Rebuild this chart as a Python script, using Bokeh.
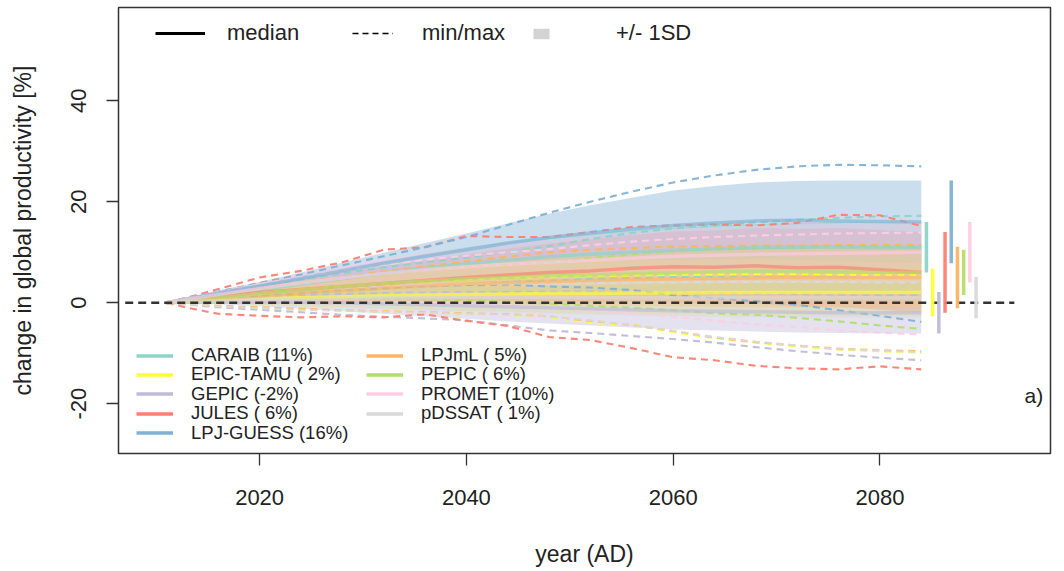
import numpy as np
from bokeh.plotting import figure
from bokeh.models import Range1d, FixedTicker, Legend, LegendItem, Label
from bokeh.embed import file_html
from bokeh.resources import INLINE

# ---------------------------------------------------------------- data
years = [2011, 2013, 2016, 2020, 2024, 2028, 2032, 2036, 2040, 2044,
         2048, 2052, 2056, 2060, 2064, 2068, 2072, 2076, 2080, 2084]

models = ["CARAIB", "EPIC-TAMU", "GEPIC", "JULES", "LPJ-GUESS",
          "LPJmL", "PEPIC", "PROMET", "pDSSAT"]
colors = ["#8DD3C7", "#FFFF33", "#BEBADA", "#FB8072", "#80B1D3",
          "#FDB462", "#B3DE69", "#FCCDE5", "#D9D9D9"]

caraib_median = [0.0, 0.6, 1.4, 2.6, 3.7, 4.8, 5.8, 6.8, 7.7, 8.4, 9.1, 9.6, 10.0, 10.4, 10.7, 10.9, 11.0, 11.1, 11.0, 11.0]
caraib_sd = [0.0, 0.3, 0.7, 1.2, 1.7, 2.1, 2.5, 2.9, 3.3, 3.6, 3.9, 4.1, 4.3, 4.5, 4.6, 4.7, 4.8, 4.9, 5.0, 5.0]
caraib_min = [0.0, 0.3, 0.7, 1.3, 1.8, 2.3, 2.8, 3.3, 3.7, 4.1, 4.4, 4.7, 4.9, 5.1, 5.2, 5.3, 5.4, 5.4, 5.5, 5.5]
caraib_max = [0.0, 0.9, 2.0, 3.4, 4.6, 5.8, 7.0, 8.0, 8.9, 10.0, 11.2, 12.6, 13.8, 14.7, 15.3, 15.9, 16.4, 16.8, 17.1, 17.2]

epic_median = [0.0, 0.2, 0.5, 0.8, 1.0, 1.2, 1.4, 1.5, 1.6, 1.7, 1.8, 1.8, 1.9, 1.9, 2.0, 2.0, 2.0, 2.0, 2.0, 2.0]
epic_sd = [0.0, 0.3, 0.7, 1.2, 1.7, 2.1, 2.5, 2.9, 3.2, 3.5, 3.8, 4.0, 4.2, 4.3, 4.4, 4.5, 4.6, 4.6, 4.7, 4.7]
epic_min = [0.0, -0.3, -0.7, -1.1, -1.4, -1.5, -1.7, -1.9, -2.2, -2.4, -2.8, -4.0, -4.3, -5.8, -7.0, -7.9, -8.6, -9.3, -9.6, -9.9]
epic_max = [0.0, 0.5, 1.2, 2.0, 2.7, 3.3, 3.8, 4.2, 4.6, 4.9, 5.1, 5.3, 5.4, 5.5, 5.6, 5.6, 5.6, 5.5, 5.5, 5.5]

gepic_median = [0.0, 0.1, 0.2, 0.2, 0.1, 0.0, -0.2, -0.4, -0.6, -0.8, -1.0, -1.2, -1.4, -1.6, -1.7, -1.8, -1.9, -2.0, -2.0, -2.0]
gepic_sd = [0.0, 0.2, 0.5, 0.9, 1.3, 1.7, 2.0, 2.3, 2.6, 2.9, 3.1, 3.3, 3.5, 3.7, 3.8, 3.9, 4.0, 4.0, 4.1, 4.1]
gepic_min = [0.0, -0.4, -0.9, -1.4, -1.9, -2.4, -2.8, -3.1, -3.5, -4.5, -5.5, -6.0, -6.6, -7.2, -7.9, -8.8, -9.6, -10.3, -10.9, -11.4]
gepic_max = [0.0, 0.3, 0.7, 1.2, 1.5, 1.7, 1.9, 2.0, 2.1, 2.1, 2.2, 2.2, 2.1, 2.0, 1.9, 1.8, 1.7, 1.6, 1.5, 1.5]

jules_median = [0.0, 0.5, 1.2, 2.0, 2.6, 3.2, 3.8, 4.4, 5.0, 5.5, 6.0, 6.3, 6.8, 7.1, 7.0, 7.3, 6.9, 7.0, 6.5, 6.0]
jules_sd = [0.0, 0.4, 1.0, 1.6, 2.2, 2.8, 3.4, 4.0, 4.6, 5.2, 5.7, 6.2, 6.6, 7.0, 7.3, 7.5, 7.7, 7.8, 7.9, 8.0]
jules_min = [0.0, -1.0, -2.2, -2.6, -2.9, -2.7, -2.9, -2.3, -3.6, -4.6, -6.8, -7.4, -9.0, -10.8, -11.4, -12.5, -13.0, -13.2, -12.6, -13.2]
jules_max = [0.0, 1.0, 2.7, 5.0, 6.3, 8.0, 10.5, 11.0, 13.2, 13.0, 13.0, 14.0, 15.0, 15.3, 15.5, 15.3, 15.8, 17.4, 17.3, 15.2]

lpjguess_median = [0.0, 0.8, 1.9, 3.3, 4.8, 6.3, 7.8, 9.2, 10.5, 11.8, 12.9, 13.8, 14.6, 15.3, 15.8, 16.2, 16.3, 16.2, 16.1, 16.0]
lpjguess_sd = [0.0, 0.2, 0.5, 0.8, 1.2, 1.6, 2.1, 2.6, 3.2, 3.9, 4.7, 5.5, 6.2, 6.9, 7.3, 7.6, 7.8, 8.0, 8.1, 8.2]
lpjguess_min = [0.0, 0.3, 0.8, 1.5, 2.1, 2.6, 3.0, 3.3, 3.5, 3.6, 3.2, 3.0, 2.5, 1.5, 0.9, 0.3, -0.4, -1.5, -2.6, -3.8]
lpjguess_max = [0.0, 1.0, 2.2, 3.9, 5.6, 7.4, 9.2, 11.0, 13.0, 15.4, 17.8, 20.0, 22.0, 23.8, 25.2, 26.3, 27.0, 27.3, 27.2, 27.0]

lpjml_median = [0.0, 0.3, 0.7, 1.3, 1.9, 2.4, 2.9, 3.3, 3.7, 4.0, 4.2, 4.4, 4.6, 4.7, 4.8, 4.9, 5.0, 5.0, 5.0, 5.0]
lpjml_sd = [0.0, 0.4, 0.9, 1.5, 2.1, 2.6, 3.1, 3.5, 3.9, 4.3, 4.6, 4.9, 5.2, 5.4, 5.6, 5.8, 5.9, 6.0, 6.1, 6.1]
lpjml_min = [0.0, -0.3, -0.6, -0.9, -1.2, -1.5, -1.7, -1.9, -2.1, -2.3, -2.7, -3.6, -4.4, -5.6, -6.9, -7.8, -8.5, -9.1, -9.4, -9.6]
lpjml_max = [0.0, 0.7, 1.6, 2.8, 4.0, 5.1, 6.2, 7.2, 8.2, 9.1, 10.0, 10.5, 10.8, 11.1, 11.2, 11.3, 11.3, 11.4, 11.4, 11.4]

pepic_median = [0.0, 0.4, 1.0, 1.8, 2.5, 3.2, 3.8, 4.3, 4.7, 5.0, 5.3, 5.5, 5.7, 5.9, 6.1, 6.2, 6.2, 6.1, 6.0, 6.0]
pepic_sd = [0.0, 0.3, 0.7, 1.2, 1.7, 2.1, 2.5, 2.8, 3.1, 3.4, 3.6, 3.8, 3.9, 4.1, 4.2, 4.3, 4.4, 4.4, 4.5, 4.5]
pepic_min = [0.0, 0.1, 0.3, 0.5, 0.7, 0.8, 0.8, 0.7, 0.5, 0.2, -0.2, -0.6, -1.0, -1.5, -2.1, -2.4, -3.0, -3.7, -4.5, -5.2]
pepic_max = [0.0, 0.6, 1.4, 2.6, 3.7, 4.7, 5.6, 6.4, 7.1, 7.6, 8.0, 8.8, 9.6, 10.2, 10.6, 10.8, 10.9, 11.0, 11.0, 11.0]

promet_median = [0.0, 0.7, 1.6, 2.8, 3.9, 4.9, 5.8, 6.5, 7.1, 7.6, 8.0, 8.4, 8.8, 9.2, 9.4, 9.6, 9.7, 9.8, 9.9, 10.0]
promet_sd = [0.0, 0.3, 0.8, 1.4, 2.0, 2.5, 3.0, 3.4, 3.8, 4.2, 4.6, 4.9, 5.2, 5.4, 5.6, 5.7, 5.8, 5.9, 6.0, 6.0]
promet_min = [0.0, 0.1, 0.2, 0.3, 0.3, 0.2, 0.1, 0.0, -0.2, -0.5, -1.0, -1.5, -2.1, -2.8, -3.6, -4.3, -4.8, -5.5, -5.9, -6.3]
promet_max = [0.0, 0.9, 2.1, 3.7, 5.1, 6.4, 7.5, 8.5, 9.3, 10.0, 10.6, 11.4, 12.1, 12.6, 13.0, 13.3, 13.5, 13.7, 13.8, 13.9]

pdssat_median = [0.0, 0.2, 0.4, 0.6, 0.8, 0.9, 1.0, 1.0, 1.1, 1.1, 1.1, 1.1, 1.0, 1.0, 1.0, 1.0, 1.0, 1.0, 1.0, 1.0]
pdssat_sd = [0.0, 0.3, 0.7, 1.1, 1.5, 1.9, 2.3, 2.6, 2.9, 3.1, 3.3, 3.5, 3.6, 3.7, 3.8, 3.9, 4.0, 4.0, 4.1, 4.1]
pdssat_min = [0.0, -0.3, -0.7, -1.1, -1.4, -1.6, -1.8, -2.0, -2.2, -2.4, -2.7, -3.5, -4.4, -5.6, -6.8, -7.7, -8.5, -9.2, -9.5, -9.8]
pdssat_max = [0.0, 0.4, 1.0, 1.7, 2.3, 2.8, 3.2, 3.5, 3.7, 3.8, 3.8, 3.9, 4.0, 4.0, 4.1, 4.1, 4.1, 4.1, 4.0, 4.0]

medians = [caraib_median, epic_median, gepic_median, jules_median, lpjguess_median,
           lpjml_median, pepic_median, promet_median, pdssat_median]
sds = [caraib_sd, epic_sd, gepic_sd, jules_sd, lpjguess_sd,
       lpjml_sd, pepic_sd, promet_sd, pdssat_sd]
mins = [caraib_min, epic_min, gepic_min, jules_min, lpjguess_min,
        lpjml_min, pepic_min, promet_min, pdssat_min]
maxs = [caraib_max, epic_max, gepic_max, jules_max, lpjguess_max,
        lpjml_max, pepic_max, promet_max, pdssat_max]

x_ticks = [2020, 2040, 2060, 2080]
y_ticks = [-20, 0, 20, 40]
baseline_span = [2007, 2093]

FONT = "Liberation Sans"
INK = "#222222"
NAN2 = [np.nan, np.nan]   # key-only renderers draw nothing in the frame

# ---------------------------------------------------------------- figure
p = figure(width=1064, height=571,
           x_range=Range1d(2006.35, 2096.5), y_range=Range1d(-29.86, 58.45),
           output_backend="svg", toolbar_location=None,
           min_border_left=118, min_border_right=14,
           min_border_top=7, min_border_bottom=118)
p.xgrid.visible = False
p.ygrid.visible = False
p.outline_line_color = "#333333"
p.outline_line_width = 1.5
p.background_fill_color = "white"
p.border_fill_color = "white"

for ax in (p.xaxis[0], p.yaxis[0]):
    ax.axis_line_color = None
    ax.major_tick_line_color = "#333333"
    ax.major_tick_line_width = 1.3
    ax.major_tick_out = 12
    ax.major_tick_in = 0
    ax.minor_tick_line_color = None
    ax.major_label_text_font = FONT
    ax.major_label_text_font_size = "22px"
    ax.major_label_text_color = INK
    ax.axis_label_text_font = FONT
    ax.axis_label_text_font_size = "23px"
    ax.axis_label_text_font_style = "normal"
    ax.axis_label_text_color = INK

p.xaxis.ticker = FixedTicker(ticks=x_ticks)
p.yaxis.ticker = FixedTicker(ticks=y_ticks)
p.yaxis.major_label_overrides = {t: str(t) for t in y_ticks}   # plain hyphen minus
p.xaxis.axis_label = "year (AD)"
p.yaxis.axis_label = "change in global productivity [%]"
p.yaxis.major_label_orientation = "vertical"
p.xaxis.major_label_standoff = 24
p.xaxis.axis_label_standoff = 33
p.yaxis.major_label_standoff = 20
p.yaxis.axis_label_standoff = 33

# ---------------------------------------------------------------- +/- 1SD bands
for med, sd, col in zip(medians, sds, colors):
    m = np.array(med)
    s = np.array(sd)
    p.varea(x=years, y1=m - s, y2=m + s, fill_color=col, fill_alpha=0.42)

# ---------------------------------------------------------------- min / max
for lo, hi, col in zip(mins, maxs, colors):
    for series in (lo, hi):
        p.line(x=years, y=series, line_color=col, line_width=2.1,
               line_dash="7 5", line_alpha=0.95)

# ---------------------------------------------------------------- medians
for med, col in zip(medians, colors):
    p.line(x=years, y=med, line_color=col, line_width=3.5, line_alpha=0.65)

# zero reference
p.line(x=baseline_span, y=[0, 0], line_color="#333333", line_width=2.4,
       line_dash="8 5")

# ---------------------------------------------------------------- end-of-period bars
end_change = [int(round(m[-1])) for m in medians]
end_sd = [s[-1] for s in sds]
bar_x = [years[-1] + 0.5 + 0.6 * i for i in range(len(models))]
p.segment(x0=bar_x, x1=bar_x,
          y0=[c - s for c, s in zip(end_change, end_sd)],
          y1=[c + s for c, s in zip(end_change, end_sd)],
          line_color=colors, line_width=3.5, line_alpha=0.95)

# ---------------------------------------------------------------- legends
def single_key(renderer, label, x, y, **kw):
    leg = Legend(items=[LegendItem(label=label, renderers=[renderer], index=0)],
                 location=(x, y), orientation="vertical",
                 border_line_color=None, background_fill_alpha=0,
                 padding=0, margin=0, **kw)
    p.add_layout(leg)
    return leg

# style key at the top
key_median = p.line(x=NAN2, y=NAN2, line_color="black", line_width=3)
key_minmax = p.line(x=NAN2, y=NAN2, line_color="black", line_width=1.4, line_dash="6 4")
key_sd = p.varea(x=NAN2, y1=NAN2, y2=NAN2, fill_color="#D3D3D3")

top_kw = dict(label_text_font=FONT, label_text_font_size="22px",
              label_text_color=INK, label_height=22)
single_key(key_median, "median", 37, 407, glyph_width=50, glyph_height=22,
           label_standoff=22, **top_kw)
single_key(key_minmax, "min/max", 234, 407, glyph_width=41, glyph_height=22,
           label_standoff=29, **top_kw)
single_key(key_sd, "+/- 1SD", 413, 407, glyph_width=20, glyph_height=13,
           label_standoff=65, **top_kw)

# model key (two columns of single-row keys)
row_kw = dict(label_text_font=FONT, label_text_font_size="18.5px",
              label_text_color=INK, label_height=19, glyph_height=19,
              glyph_width=37, label_standoff=18)
for k, (name, col, chg) in enumerate(zip(models, colors, end_change)):
    r = p.line(x=NAN2, y=NAN2, line_color=col, line_width=3.5)
    column, row = divmod(k, 5)
    centre = 355 + 19.4 * row
    single_key(r, f"{name} ({chg:2d}%)", 18 + 230 * column, 442 - centre, **row_kw)

# panel tag
p.add_layout(Label(x=2094.9, y=-18.3, text="a)", text_font=FONT,
                   text_font_size="21px", text_color=INK,
                   text_align="center", text_baseline="middle"))

open("out.html", "w").write(file_html(p, INLINE))
